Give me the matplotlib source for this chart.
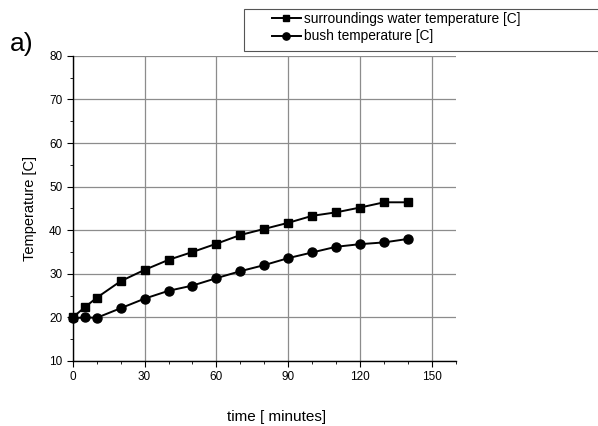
import matplotlib
matplotlib.use('Agg')
from matplotlib import pyplot as plt
from matplotlib.ticker import MultipleLocator
from matplotlib.patches import Rectangle

plt.rcParams['font.family'] = ['Liberation Sans', 'DejaVu Sans']

time_min = [0, 5, 10, 20, 30, 40, 50, 60, 70, 80, 90, 100, 110, 120, 130, 140]
water_temp = [20.0, 22.3, 24.5, 28.3, 30.9, 33.2, 35.0, 36.9, 38.9, 40.3,
              41.7, 43.3, 44.1, 45.2, 46.4, 46.4]
bush_temp = [19.8, 20.0, 19.9, 22.1, 24.3, 26.1, 27.3, 29.0, 30.6, 32.0,
             33.6, 34.9, 36.2, 36.8, 37.2, 38.0]

fig = plt.figure(figsize=(5.98, 4.26), dpi=100)
ax = fig.add_axes([0.1216, 0.1526, 0.7625 - 0.1216, 0.869 - 0.1526])

ax.plot(time_min, water_temp, c='black', lw=1.4, marker='s', ms=5.7,
        label='surroundings water temperature [C]', clip_on=False, zorder=3)
ax.plot(time_min, bush_temp, c='black', lw=1.4, marker='o', ms=6.5,
        label='bush temperature [C]', clip_on=False, zorder=3)

#Axes formatting.
ax.set_xlim(0, 160)
ax.set_ylim(10, 80)
ax.xaxis.set_major_locator(MultipleLocator(30))
ax.xaxis.set_minor_locator(MultipleLocator(10))
ax.yaxis.set_major_locator(MultipleLocator(10))
ax.yaxis.set_minor_locator(MultipleLocator(5))
ax.grid(True, which='major', color='#8c8c8c', lw=0.9)
ax.set_axisbelow(True)
for side in ['top', 'right']:
	ax.spines[side].set_visible(False)
for side in ['left', 'bottom']:
	ax.spines[side].set_linewidth(1.0)
ax.tick_params(axis='both', which='major', labelsize=8.5, length=4, direction='out')
ax.tick_params(axis='both', which='minor', length=2.5, direction='out')

ax.set_xlabel('time [ minutes]', fontsize=11, labelpad=19, x=0.533)
ax.set_ylabel('Temperature [C]', fontsize=10.5, labelpad=8.5)

fig.text(0.017, 0.88, 'a)', fontsize=19)

#Legend frame drawn separately so it runs off the right edge like the original.
fig.patches.append(Rectangle((244 / 598, 1 - 51 / 426), 0.7, 42 / 426,
                             transform=fig.transFigure, fill=True, fc='white',
                             ec='#555555', lw=0.8))
leg = fig.legend(loc='upper left', bbox_to_anchor=(272 / 598, 1 - 12 / 426), fontsize=9.9,
                 frameon=False, handlelength=2.1, handletextpad=0.25, borderpad=0,
                 labelspacing=0.25, borderaxespad=0, markerscale=0.8)

fig.savefig('out.png', dpi=100)
